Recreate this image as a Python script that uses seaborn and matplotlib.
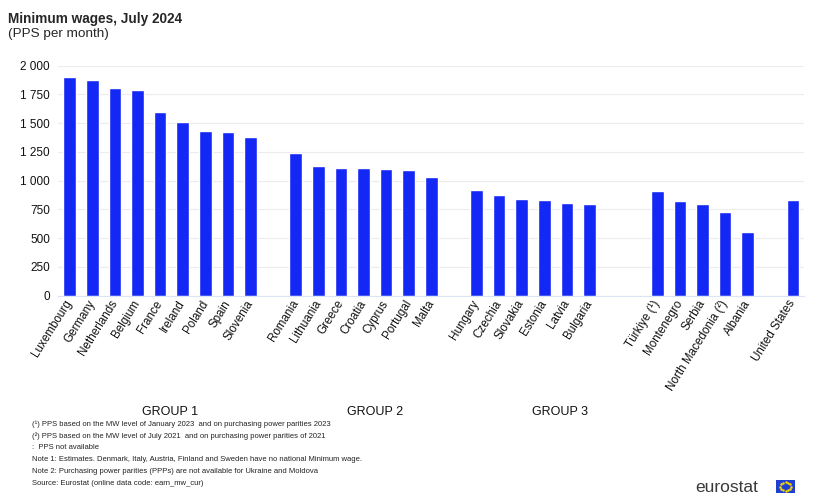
import numpy as np
import pandas as pd
import matplotlib
matplotlib.use("Agg")
import matplotlib.pyplot as plt
import seaborn as sns

# data (PPS per month)
group1 = ["Luxembourg", "Germany", "Netherlands", "Belgium", "France", "Ireland", "Poland", "Spain", "Slovenia"]
values1 = [1904, 1873, 1806, 1791, 1600, 1510, 1432, 1423, 1380]
group2 = ["Romania", "Lithuania", "Greece", "Croatia", "Cyprus", "Portugal", "Malta"]
values2 = [1238, 1128, 1107, 1107, 1101, 1090, 1035]
group3 = ["Hungary", "Czechia", "Slovakia", "Estonia", "Latvia", "Bulgaria"]
values3 = [919, 878, 838, 832, 803, 794]
others = ["Türkiye (¹)", "Montenegro", "Serbia", "North Macedonia (²)", "Albania"]
values_others = [913, 826, 794, 730, 551]
us = ["United States"]
values_us = [832]

group_names = ["GROUP 1", "GROUP 2", "GROUP 3", "", ""]
yticks = [0, 250, 500, 750, 1000, 1250, 1500, 1750, 2000]

footnotes = [
    "(¹) PPS based on the MW level of January 2023  and on purchasing power parities 2023",
    "(²) PPS based on the MW level of July 2021  and on purchasing power parities of 2021",
    ":  PPS not available",
    "Note 1: Estimates. Denmark, Italy, Austria, Finland and Sweden have no national Minimum wage.",
    "Note 2: Purchasing power parities (PPPs) are not available for Ukraine and Moldova",
    "Source: Eurostat (online data code: earn_mw_cur)",
]

# build positions with empty slots between the groups
blocks = [(group1, values1, 1), (group2, values2, 1), (group3, values3, 2), (others, values_others, 1), (us, values_us, 0)]
label_shift = [0.45, 0.5, 1.2, 0, 0]
rows = []
centers = []
p = 0
for names, vals, gap in blocks:
    start = p
    for n, v in zip(names, vals):
        rows.append({"country": n, "value": v, "pos": p})
        p += 1
    centers.append((start + p - 1) / 2)
    p += gap
df = pd.DataFrame(rows)

sns.set_style("white")
plt.rcParams["font.family"] = ["Liberation Sans", "DejaVu Sans"]

fig = plt.figure(figsize=(8.2, 5), dpi=100)
ax = fig.add_axes([0.0712, 0.4086, 0.9095, 0.46])

sns.barplot(data=df, x="pos", y="value", native_scale=True, color="#1428f5",
            saturation=1, width=0.56, ax=ax)

ax.set_xlim(-0.5, p - 0.5)
ax.set_ylim(0, 2000)
ax.set_yticks(yticks)
ax.set_yticklabels([f"{t:,}".replace(",", " ") for t in yticks], fontsize=8.5, color="#111111")
ax.set_xticks(df["pos"])
ax.set_xticklabels(df["country"], rotation=58, ha="right", va="center",
                   rotation_mode="anchor", fontsize=8.4, color="#111111")
ax.tick_params(axis="both", length=0, pad=6)
ax.tick_params(axis="x", pad=4)
ax.set_xlabel("")
ax.set_ylabel("")
ax.yaxis.grid(True, color="#ececec", linewidth=0.8)
ax.set_axisbelow(True)
for s in ["top", "right", "left"]:
    ax.spines[s].set_visible(False)
ax.spines["bottom"].set_color("#dde3f5")
ax.spines["bottom"].set_linewidth(0.8)

# group labels under the tick labels
for name, c, sh in zip(group_names, centers, label_shift):
    if name:
        ax.text(c + sh, -0.506, name, transform=ax.get_xaxis_transform(),
                ha="center", va="center", fontsize=9, color="#111111")

fig.text(0.01, 0.977, "Minimum wages, July 2024", fontsize=9.8, fontweight="bold", va="top")
fig.text(0.01, 0.945, "(PPS per month)", fontsize=9.7, va="top")

for i, line in enumerate(footnotes):
    fig.text(0.039, 0.152 - i * 0.0238, line, fontsize=5.5, color="#222222", va="center")

# eurostat logo
fig.text(0.925, 0.026, "eurostat", fontsize=12.5, color="#3a3a3a", ha="right", va="center")
flag = fig.add_axes([0.946, 0.014, 0.024, 0.026])
flag.set_facecolor("#1f3fd0")
ang = np.linspace(0, 2 * np.pi, 12, endpoint=False)
flag.scatter(0.5 + 0.28 * np.cos(ang), 0.5 + 0.35 * np.sin(ang), s=0.6, color="#ffdd00")
flag.set_xlim(0, 1)
flag.set_ylim(0, 1)
flag.set_xticks([])
flag.set_yticks([])
for s in flag.spines.values():
    s.set_visible(False)

fig.savefig("out.png", dpi=100)
